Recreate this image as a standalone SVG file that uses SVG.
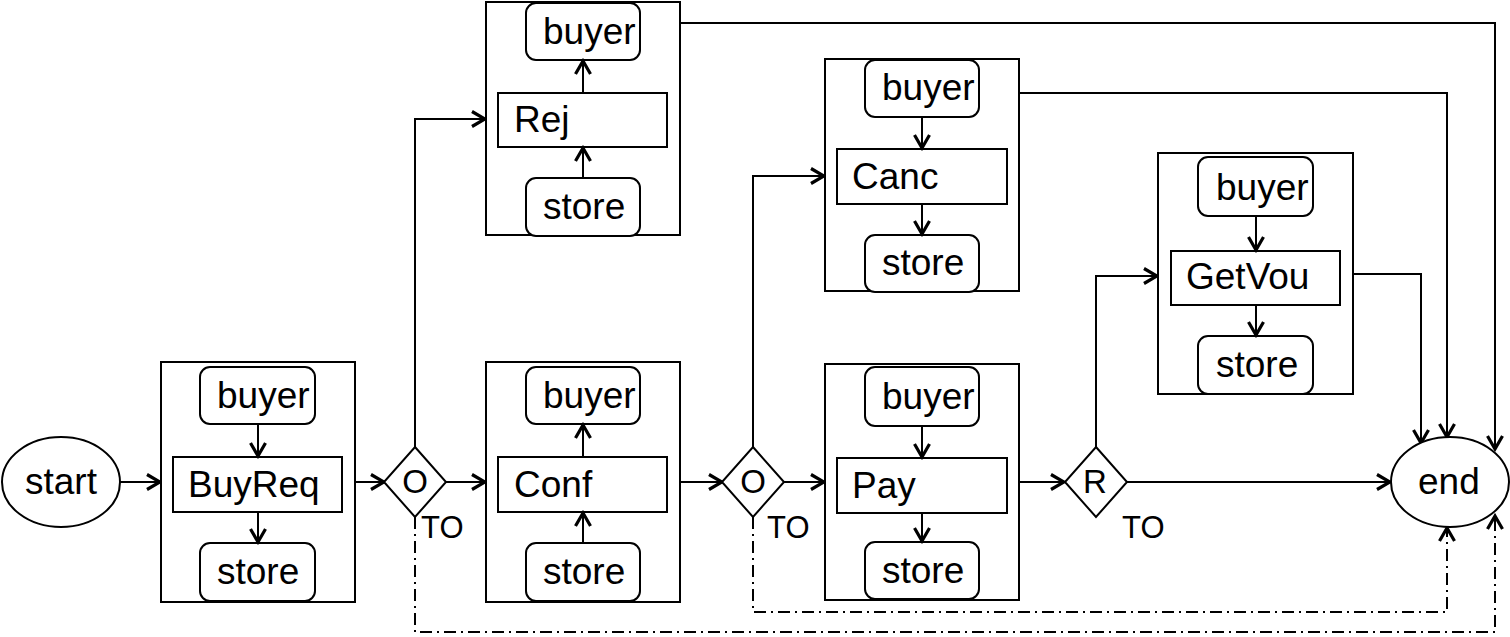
<svg xmlns="http://www.w3.org/2000/svg" width="1510" height="637" viewBox="0 0 1510 637">
<defs>
<marker id="ah" viewBox="0 0 20 20" refX="17" refY="10" markerWidth="20" markerHeight="20" markerUnits="userSpaceOnUse" orient="auto">
<path d="M4,2.5 L17,10 L4,17.5" fill="none" stroke="#000" stroke-width="3.2"/>
</marker>
<style>
.box{fill:#fff;stroke:#000;stroke-width:2}
.rr{fill:#fff;stroke:#000;stroke-width:2}
.t{font-family:"Liberation Sans",Arial,sans-serif;font-size:37px;fill:#000}
.s{font-family:"Liberation Sans",Arial,sans-serif;font-size:31px;fill:#000}
.g{font-family:"Liberation Sans",Arial,sans-serif;font-size:33px;fill:#000}
.c{fill:none;stroke:#000;stroke-width:2;marker-end:url(#ah)}
.d{fill:none;stroke:#000;stroke-width:2;stroke-dasharray:12 5 2 5;marker-end:url(#ah)}
</style>
</defs>
<rect width="1510" height="637" fill="#fff"/>
<g id="connectors">
<path class="c" d="M120,482 H160"/>
<path class="c" d="M355,482 H384"/>
<path class="c" d="M446,482 H485"/>
<path class="c" d="M415,447 V119 H485"/>
<path class="c" d="M680,482 H722"/>
<path class="c" d="M784,482 H824"/>
<path class="c" d="M753,447 V176 H824"/>
<path class="c" d="M1019,482 H1064"/>
<path class="c" d="M1096,447 V276 H1157"/>
<path class="c" d="M1126,482 H1390"/>
<path class="c" d="M681,23 H1495 V449"/>
<path class="c" d="M1019,93 H1447 V437"/>
<path class="c" d="M1353,274 H1421 V443"/>
<path class="d" d="M415,517 V632 H1495 V516"/>
<path class="d" d="M753,517 V612 H1447 V528"/>
</g>
<g id="start"><ellipse cx="61" cy="482" rx="59" ry="45" class="box"/><text x="25" y="494" class="t">start</text></g>
<g id="end"><ellipse cx="1450" cy="482" rx="59" ry="45" class="box"/><text x="1418" y="494" class="t">end</text></g>
<g id="gw1"><path d="M415,447 L446,482 L415,517 L384,482 Z" class="box"/><text x="415" y="493" class="g" text-anchor="middle">O</text><text x="421" y="538" class="s">TO</text></g>
<g id="gw2"><path d="M753,447 L784,482 L753,517 L722,482 Z" class="box"/><text x="753" y="493" class="g" text-anchor="middle">O</text><text x="767" y="538" class="s">TO</text></g>
<g id="gw3"><path d="M1096,447 L1127,482 L1096,517 L1065,482 Z" class="box"/><text x="1095" y="493" class="g" text-anchor="middle">R</text><text x="1122" y="538" class="s">TO</text></g>
<g id="BuyReq">
<rect x="161" y="362" width="194" height="240" class="box"/>
<rect x="200" y="367" width="115" height="57" rx="10" class="rr"/>
<rect x="173" y="457" width="169" height="55" class="box"/>
<rect x="200" y="543" width="115" height="58" rx="10" class="rr"/>
<path class="c" d="M258,424 V456"/><path class="c" d="M258,512 V542"/>
<text x="217" y="408" class="t">buyer</text><text x="188" y="497" class="t">BuyReq</text><text x="217" y="584" class="t">store</text>
</g>
<g id="Conf">
<rect x="486" y="362" width="194" height="240" class="box"/>
<rect x="526" y="367" width="114" height="57" rx="10" class="rr"/>
<rect x="498" y="457" width="169" height="55" class="box"/>
<rect x="526" y="543" width="114" height="58" rx="10" class="rr"/>
<path class="c" d="M583,543 V513"/><path class="c" d="M583,457 V425"/>
<text x="543" y="408" class="t">buyer</text><text x="514" y="497" class="t">Conf</text><text x="543" y="584" class="t">store</text>
</g>
<g id="Rej">
<rect x="486" y="2" width="194" height="233" class="box"/>
<rect x="526" y="3" width="114" height="57" rx="10" class="rr"/>
<rect x="498" y="93" width="169" height="54" class="box"/>
<rect x="526" y="178" width="114" height="58" rx="10" class="rr"/>
<path class="c" d="M583,178 V148"/><path class="c" d="M583,93 V61"/>
<text x="543" y="44" class="t">buyer</text><text x="514" y="132" class="t">Rej</text><text x="543" y="219" class="t">store</text>
</g>
<g id="Canc">
<rect x="825" y="59" width="194" height="232" class="box"/>
<rect x="865" y="60" width="114" height="57" rx="10" class="rr"/>
<rect x="837" y="149" width="170" height="55" class="box"/>
<rect x="865" y="235" width="114" height="57" rx="10" class="rr"/>
<path class="c" d="M922,117 V148"/><path class="c" d="M922,204 V234"/>
<text x="882" y="100" class="t">buyer</text><text x="852" y="189" class="t">Canc</text><text x="882" y="275" class="t">store</text>
</g>
<g id="Pay">
<rect x="825" y="364" width="194" height="236" class="box"/>
<rect x="865" y="367" width="114" height="59" rx="10" class="rr"/>
<rect x="837" y="458" width="170" height="55" class="box"/>
<rect x="865" y="542" width="114" height="57" rx="10" class="rr"/>
<path class="c" d="M922,426 V457"/><path class="c" d="M922,513 V541"/>
<text x="882" y="409" class="t">buyer</text><text x="852" y="498" class="t">Pay</text><text x="882" y="583" class="t">store</text>
</g>
<g id="GetVou">
<rect x="1158" y="153" width="195" height="241" class="box"/>
<rect x="1198" y="157" width="115" height="59" rx="10" class="rr"/>
<rect x="1171" y="251" width="169" height="54" class="box"/>
<rect x="1198" y="336" width="115" height="58" rx="10" class="rr"/>
<path class="c" d="M1256,216 V250"/><path class="c" d="M1256,305 V335"/>
<text x="1216" y="200" class="t">buyer</text><text x="1186" y="289" class="t">GetVou</text><text x="1216" y="377" class="t">store</text>
</g>
</svg>
